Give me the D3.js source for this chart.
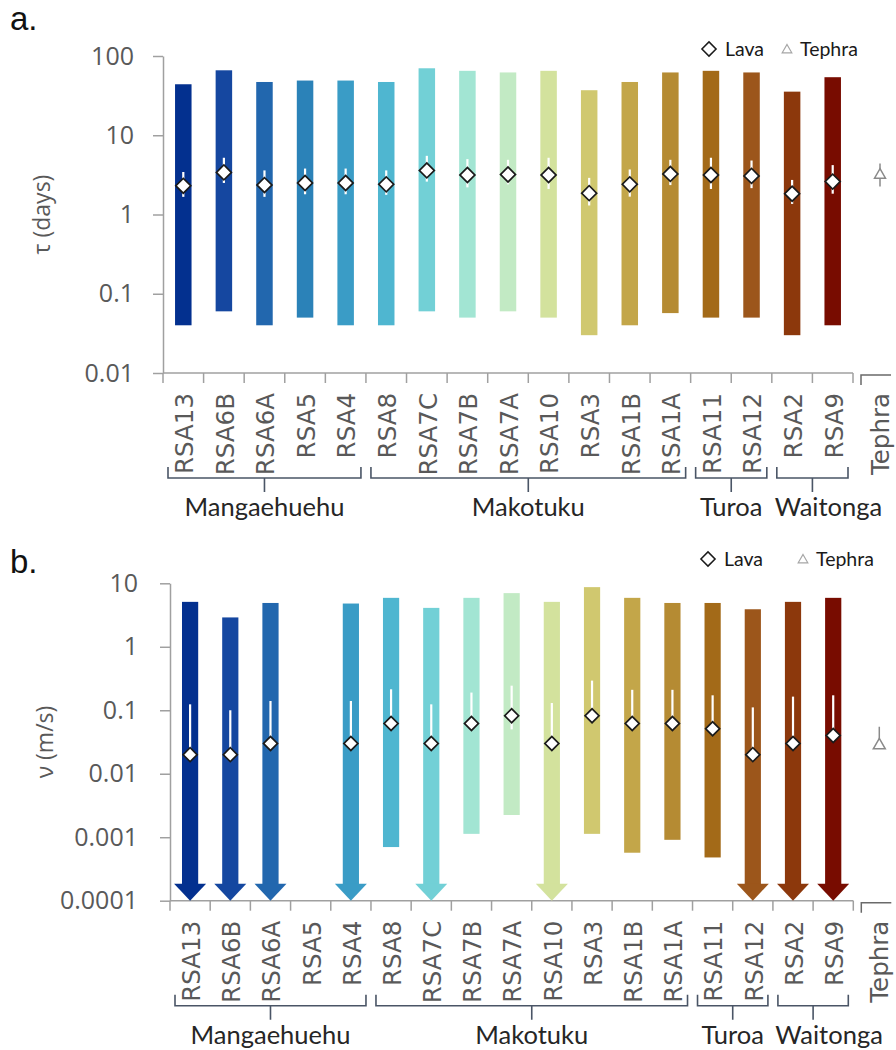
<!DOCTYPE html>
<html>
<head>
<meta charset="utf-8">
<script src="https://cdn.jsdelivr.net/npm/d3@7/dist/d3.min.js"></script>
<style>
  body { margin: 0; background: #fff; }
  svg { display: block; }
</style>
</head>
<body>
<svg id="chart" width="896" height="1050"></svg>
<script>
// ---- Samples and groups ----
const samples = ["RSA13","RSA6B","RSA6A","RSA5","RSA4","RSA8","RSA7C","RSA7B","RSA7A",
                 "RSA10","RSA3","RSA1B","RSA1A","RSA11","RSA12","RSA2","RSA9"];
const sampleColors = ["#03308f","#1547a0","#2267ae","#2b82b8","#3a9cc6","#4fb6d0","#72d0d6",
                      "#a2e5d3","#c2eac4","#d3e29d","#d0c86f","#c3a649","#b58b33","#a36a18",
                      "#9c561b","#8c380c","#780c00"];
const groupNames = ["Mangaehuehu","Makotuku","Turoa","Waitonga"];
const groupFirst = ["RSA13","RSA8","RSA11","RSA2"];
const groupLast  = ["RSA4","RSA1A","RSA12","RSA9"];

// ---- Panel a: timescale tau (days) ----
const tauHigh  = [44, 66, 47, 49, 49, 47, 70, 65, 62, 65, 37, 47, 62, 65, 62, 35.5, 54];
const tauLow   = [0.04, 0.06, 0.04, 0.05, 0.04, 0.04, 0.06, 0.05, 0.06, 0.05, 0.03, 0.04, 0.057, 0.05, 0.05, 0.03, 0.04];
const tauBest  = [2.3, 3.4, 2.35, 2.5, 2.5, 2.4, 3.6, 3.15, 3.2, 3.15, 1.86, 2.4, 3.25, 3.15, 3.07, 1.83, 2.6];
const tauErrHi = [3.44, 5.2, 3.6, 3.8, 3.8, 3.6, 5.5, 5.0, 4.9, 5.2, 2.9, 3.7, 4.9, 5.2, 4.8, 2.73, 4.2];
const tauErrLo = [1.67, 2.5, 1.67, 1.8, 1.8, 1.77, 2.6, 2.2, 2.4, 2.1, 1.3, 1.68, 2.35, 2.1, 2.15, 1.36, 1.83];
const tauTephra = {best: 3.15, lo: 2.25, hi: 4.4};
const tauTicks = [0.01, 0.1, 1, 10, 100];
const tauTickLabels = ["0.01", "0.1", "1", "10", "100"];

// ---- Panel b: velocity v (m/s); null low = open-ended below the axis ----
const vHigh  = [5.1, 2.9, 4.9, null, 4.8, 5.9, 4.1, 5.9, 7.0, 5.1, 8.7, 5.9, 4.9, 4.9, 3.9, 5.1, 5.9];
const vLow   = [null, null, null, null, null, 0.0007, null, 0.00113, 0.00224, null, 0.00113, 0.00057, 0.00091, 0.00048, null, null, null];
const vBest  = [0.02, 0.02, 0.03, null, 0.03, 0.062, 0.03, 0.062, 0.082, 0.03, 0.082, 0.062, 0.062, 0.051, 0.02, 0.03, 0.04];
const vErrHi = [0.124, 0.10, 0.14, null, 0.14, 0.214, 0.124, 0.19, 0.244, 0.13, 0.293, 0.21, 0.21, 0.172, 0.111, 0.164, 0.172];
const vErrLo = [0.018, 0.018, 0.027, null, 0.027, 0.055, 0.027, 0.055, 0.05, 0.027, 0.073, 0.055, 0.055, 0.045, 0.018, 0.027, 0.036];
const vTephra = {best: 0.028, lo: 0.028, hi: 0.055};
const vTicks = [0.0001, 0.001, 0.01, 0.1, 1, 10];
const vTickLabels = ["0.0001", "0.001", "0.01", "0.1", "1", "10"];

const svg = d3.select("#chart");
const AXIS = "#a0a0a0";
const TICK_TXT = "#595959";

function drawPanel(p) {
  const g = svg.append("g");
  const x = d3.scaleBand().domain(samples).range([p.left, p.right]);
  const y = d3.scaleLog().domain(p.domain).range([p.bottom, p.top]);
  const floor = p.domain[0];
  const bw = p.barWidth;
  const cx = s => x(s) + x.bandwidth() / 2;

  const rows = samples.map((s, i) => ({
    s, color: sampleColors[i], hi: p.high[i], lo: p.low[i], best: p.best[i],
    eHi: p.errHi[i], eLo: p.errLo[i]
  }));

  // panel letter
  svg.append("text").attr("x", p.letterX).attr("y", p.letterY)
    .attr("font-family", "Liberation Sans, Arial, sans-serif").attr("font-size", 33)
    .attr("fill", "#111").text(p.letter);

  // y axis
  const ya = g.append("g").attr("transform", `translate(${p.left},0)`)
    .call(d3.axisLeft(y).tickValues(p.ticks).tickSize(10).tickSizeOuter(0)
      .tickPadding(p.tickPad).tickFormat((d, i) => p.tickLabels[i]));
  ya.select(".domain").attr("stroke", AXIS).attr("stroke-width", 1.5);
  ya.selectAll(".tick line").attr("stroke", AXIS).attr("stroke-width", 1.5);
  ya.selectAll(".tick text").attr("fill", TICK_TXT)
    .attr("font-family", "Open Sans, sans-serif").attr("font-size", 25);

  // y title
  svg.append("text")
    .attr("transform", `translate(${p.titleX},${(p.top + p.bottom) / 2}) rotate(-90)`)
    .attr("text-anchor", "middle").attr("fill", TICK_TXT)
    .attr("font-family", "Open Sans, sans-serif").attr("font-size", 23)
    .text(p.title);

  // x axis line with ticks at band edges
  g.append("line").attr("x1", p.left).attr("x2", p.right)
    .attr("y1", p.bottom).attr("y2", p.bottom).attr("stroke", AXIS).attr("stroke-width", 1.5);
  const edges = samples.map(s => x(s)).concat([p.right]);
  g.selectAll(".xtick").data(edges).join("line").attr("class", "xtick")
    .attr("x1", d => d).attr("x2", d => d)
    .attr("y1", p.bottom).attr("y2", p.bottom + 10)
    .attr("stroke", AXIS).attr("stroke-width", 1.5);

  // range bars
  const valid = rows.filter(r => r.hi != null);
  const headH = 17, headW = 32;
  g.selectAll(".bar").data(valid).join("rect").attr("class", "bar")
    .attr("x", r => cx(r.s) - bw / 2).attr("width", bw)
    .attr("y", r => y(r.hi))
    .attr("height", r => (r.lo == null ? y(floor) - headH + 1 : y(r.lo)) - y(r.hi))
    .attr("fill", r => r.color);
  // open-ended ranges get an arrow head down to the axis floor
  g.selectAll(".head").data(valid.filter(r => r.lo == null)).join("path").attr("class", "head")
    .attr("d", r => {
      const c = cx(r.s), yb = y(floor);
      return `M${c - headW / 2},${yb - headH}L${c + headW / 2},${yb - headH}L${c},${yb}Z`;
    })
    .attr("fill", r => r.color);

  // error bars
  const withBest = rows.filter(r => r.best != null);
  g.selectAll(".err").data(withBest).join("line").attr("class", "err")
    .attr("x1", r => cx(r.s)).attr("x2", r => cx(r.s))
    .attr("y1", r => y(r.eHi)).attr("y2", r => y(r.eLo))
    .attr("stroke", "#fff").attr("stroke-width", 2.2);

  // best-estimate diamonds
  const diamond = d3.symbol(d3.symbolSquare, p.diamondArea);
  g.selectAll(".pt").data(withBest).join("path").attr("class", "pt")
    .attr("d", diamond)
    .attr("transform", r => `translate(${cx(r.s)},${y(r.best)}) rotate(45)`)
    .attr("fill", "#fff").attr("stroke", "#1a1a1a").attr("stroke-width", 1.7);

  // tephra estimate beyond the axis
  const tx = p.right + p.tephraOffset;
  g.append("line").attr("x1", tx).attr("x2", tx)
    .attr("y1", y(p.tephra.hi)).attr("y2", y(p.tephra.lo))
    .attr("stroke", "#8a8a8a").attr("stroke-width", 1.5);
  g.append("path").attr("d", d3.symbol(d3.symbolTriangle, p.triArea))
    .attr("transform", `translate(${tx},${y(p.tephra.best)})`)
    .attr("fill", "#fff").attr("stroke", "#8a8a8a").attr("stroke-width", 1.5);

  // sample labels (rotated)
  const labY = p.bottom + 20;
  g.selectAll(".xlab").data(samples).join("text").attr("class", "xlab")
    .attr("transform", s => `translate(${cx(s) + 1},${labY}) rotate(-90)`)
    .attr("text-anchor", "end").attr("dy", "0.36em")
    .attr("fill", TICK_TXT).attr("font-family", "DejaVu Sans, sans-serif")
    .attr("font-size", 24.5)
    .text(s => s);

  // tephra bracket + label
  const tb = p.bottom + 2;
  g.append("path").attr("d", `M${p.right + 8},${tb + 10}V${tb}H${p.right + 38}`)
    .attr("fill", "none").attr("stroke", "#6a6a6a").attr("stroke-width", 1.5);
  g.append("text").attr("transform", `translate(${tx},${labY}) rotate(-90)`)
    .attr("text-anchor", "end").attr("dy", "0.36em")
    .attr("fill", TICK_TXT).attr("font-family", "DejaVu Sans, sans-serif")
    .attr("font-size", 24.5).text("Tephra");

  // group brackets
  const by = p.bottom + 105;
  groupNames.forEach((name, i) => {
    const x0 = x(groupFirst[i]) + 5, x1 = x(groupLast[i]) + x.bandwidth() - 5;
    const mid = (x0 + x1) / 2;
    g.append("path").attr("d", `M${x0},${by - 11}V${by}H${x1}V${by - 11}M${mid},${by}V${by + 14}`)
      .attr("fill", "none").attr("stroke", "#4a5566").attr("stroke-width", 1.6);
    // the last label is nudged right so it clears its neighbour
    const nudge = i === groupNames.length - 1 ? 16 : 0;
    g.append("text").attr("x", mid + nudge).attr("y", by + 38)
      .attr("text-anchor", "middle").attr("fill", "#262626")
      .attr("font-family", "Lato, sans-serif").attr("font-size", 25.5)
      .text(name);
  });

  // legend
  const lg = svg.append("g").attr("font-family", "Lato, sans-serif").attr("font-size", 19.5).attr("fill", "#1a1a1a");
  lg.append("path").attr("d", d3.symbol(d3.symbolSquare, 100))
    .attr("transform", `translate(${p.legend[0]},${p.legendY}) rotate(45)`)
    .attr("fill", "#fff").attr("stroke", "#1a1a1a").attr("stroke-width", 1.5);
  lg.append("text").attr("x", p.legend[0] + 16).attr("y", p.legendY + 6.5).text("Lava");
  lg.append("path").attr("d", d3.symbol(d3.symbolTriangle, 40))
    .attr("transform", `translate(${p.legend[1]},${p.legendY + 1})`)
    .attr("fill", "#fff").attr("stroke", "#a6a6a6").attr("stroke-width", 1.2);
  lg.append("text").attr("x", p.legend[1] + 13).attr("y", p.legendY + 6.5).text("Tephra");
}

drawPanel({
  letter: "a.", letterX: 10, letterY: 30,
  top: 56, bottom: 373, left: 163, right: 853,
  domain: [0.01, 100], ticks: tauTicks, tickLabels: tauTickLabels, tickPad: 19,
  title: "τ (days)", titleX: 50,
  high: tauHigh, low: tauLow, best: tauBest, errHi: tauErrHi, errLo: tauErrLo,
  tephra: tauTephra, tephraOffset: 27,
  barWidth: 16.5, diamondArea: 112, triArea: 52,
  legend: [709, 787], legendY: 49
});

drawPanel({
  letter: "b.", letterX: 10, letterY: 573,
  top: 583.3, bottom: 900.7, left: 170, right: 853.3,
  domain: [0.0001, 10], ticks: vTicks, tickLabels: vTickLabels, tickPad: 22,
  title: "ν (m/s)", titleX: 53,
  high: vHigh, low: vLow, best: vBest, errHi: vErrHi, errLo: vErrLo,
  tephra: vTephra, tephraOffset: 26,
  barWidth: 16.2, diamondArea: 98, triArea: 62,
  legend: [708, 803], legendY: 559
});
</script>
</body>
</html>
